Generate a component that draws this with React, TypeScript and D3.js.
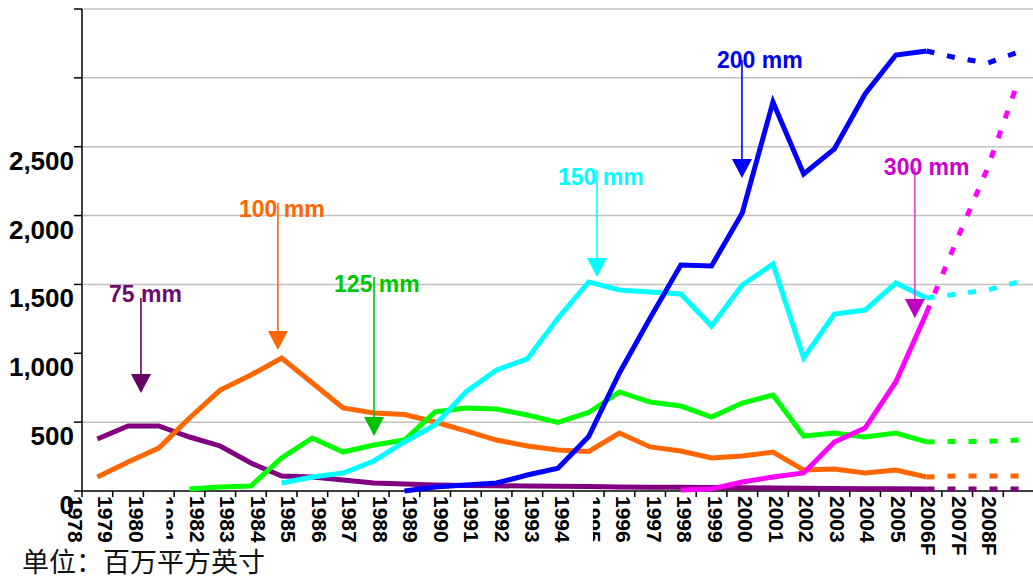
import React from 'react'
import * as d3 from 'd3'

// categories
const years = [
  '1978', '1979', '1980', '1981', '1982', '1983', '1984', '1985', '1986', '1987',
  '1988', '1989', '1990', '1991', '1992', '1993', '1994', '1995', '1996', '1997',
  '1998', '1999', '2000', '2001', '2002', '2003', '2004', '2005', '2006F', '2007F', '2008F',
]
const actualYears = years.slice(0, 28)
const forecastYears = years.slice(27) // 2005 joins the dashed part

// wafer area by diameter, million sq in (1978..2005)
const mm75 = [378, 472, 472, 392, 327, 203, 109, 102, 80, 58, 51, 44, 40, 38, 36, 34, 32, 29, 28, 27, 26, 24, 22, 20, 18, 17, 16, 15]
const mm100 = [102, 211, 312, 530, 733, 842, 966, 784, 603, 566, 555, 501, 436, 370, 327, 298, 287, 421, 320, 290, 240, 254, 283, 152, 160, 131, 152, 102]
const mm125 = [null, null, null, 15, 29, 36, 240, 385, 283, 334, 370, 574, 603, 595, 552, 498, 570, 719, 646, 617, 537, 639, 697, 399, 421, 392, 421, 356]
const mm150 = [null, null, null, null, null, null, 58, 102, 131, 218, 356, 479, 719, 879, 959, 1256, 1518, 1460, 1445, 1431, 1198, 1496, 1648, 966, 1285, 1314, 1510, 1401]
const mm200 = [null, null, null, null, null, null, null, null, null, null, 0, 29, 44, 58, 116, 165, 395, 857, 1256, 1641, 1634, 2019, 2825, 2302, 2484, 2883, 3166, 3195]
const mm300 = [null, null, null, null, null, null, null, null, null, null, null, null, null, null, null, null, null, null, null, 7, 15, 65, 102, 131, 356, 457, 792, 1293]

// forecasts 2006F..2008F
const mm75F = [14, 14, 14]
const mm100F = [109, 109, 109]
const mm125F = [360, 360, 370]
const mm150F = [1430, 1460, 1518]
const mm200F = [3144, 3108, 3188]
const mm300F = [1830, 2350, 2985]

const yLabelValues = [0, 500, 1000, 1500, 2000, 2500]
const gridValues = [500, 1500, 2000, 2500, 3000, 3500]
const unitText = '单位：百万平方英寸'

const series = [
  { name: '75 mm', color: '#800080', actual: mm75, forecast: mm75F },
  { name: '100 mm', color: '#FF6600', actual: mm100, forecast: mm100F },
  { name: '125 mm', color: '#00FF00', actual: mm125, forecast: mm125F },
  { name: '150 mm', color: '#00FFFF', actual: mm150, forecast: mm150F },
  { name: '200 mm', color: '#0000FF', actual: mm200, forecast: mm200F },
  { name: '300 mm', color: '#FF00FF', actual: mm300, forecast: mm300F },
]

// callouts: at = fractional category index, values in data units
const notes = [
  { text: '75 mm', at: 1.42, base: 1372, top: 1401, tip: 711, dx: -32, text_c: '#6E0A6E', line_c: '#660066', head_c: '#660066' },
  { text: '100 mm', at: 5.88, base: 1990, top: 2091, tip: 1024, dx: -39, text_c: '#FF6600', line_c: '#FF6600', head_c: '#FF6600' },
  { text: '125 mm', at: 9.01, base: 1445, top: 1554, tip: 399, dx: -40, text_c: '#00C800', line_c: '#00C000', head_c: '#00C000' },
  { text: '150 mm', at: 16.27, base: 2222, top: 2331, tip: 1554, dx: -39, text_c: '#00FFFF', line_c: '#00FFFF', head_c: '#00FFFF' },
  { text: '200 mm', at: 20.99, base: 3072, top: 3130, tip: 2273, dx: -25, text_c: '#0000EE', line_c: '#0000FF', head_c: '#0000FF' },
  { text: '300 mm', at: 26.62, base: 2295, top: 2346, tip: 1256, dx: -31, text_c: '#CC00CC', line_c: '#E040E0', head_c: '#C000C0' },
]

const W = 1033
const H = 581
const font = '"Liberation Sans", Arial, sans-serif'

export default function App() {
  const x = d3.scaleBand<string>().domain(years).range([82, 1034]).paddingInner(0).paddingOuter(0)
  const bw = x.bandwidth()
  const cx = (yr: string) => (x(yr) as number) + bw / 2
  const atX = (i: number) => cx(years[0]) + i * bw
  const y = d3.scaleLinear().domain([0, 3500]).range([491, 9])
  const labelX = d3.scaleLinear().domain([0, years.length - 1]).range([68, 982])
  const fmt = d3.format(',')

  const line = d3
    .line<[string, number | null]>()
    .defined(d => d[1] != null)
    .x(d => cx(d[0]))
    .y(d => y(d[1] as number))

  const clipped = ['1981', '1995']

  return (
    <svg width={W} height={H} style={{ position: 'absolute', left: 0, top: 0, background: '#fff' }}>
      <defs>
        <clipPath id="partial" clipPathUnits="userSpaceOnUse">
          <rect x={0} y={-40} width={80} height={33} />
        </clipPath>
      </defs>

      {/* gridlines */}
      {gridValues.map(v => (
        <line key={'g' + v} x1={82} x2={W} y1={y(v)} y2={y(v)} stroke="#C0C0C0" strokeWidth={1.5} />
      ))}

      {/* y axis */}
      <line x1={82} x2={82} y1={y(3500)} y2={y(0)} stroke="#000" strokeWidth={1.5} />
      {y.ticks(7).map(v => (
        <line key={'yt' + v} x1={74} x2={82} y1={y(v)} y2={y(v)} stroke="#000" strokeWidth={1.5} />
      ))}
      {yLabelValues.map(v => (
        <text key={'yl' + v} x={74} y={y(v) + 23} textAnchor="end" fontFamily={font} fontWeight="bold" fontSize={26} fill="#000">
          {fmt(v)}
        </text>
      ))}

      {/* x axis */}
      <line x1={82} x2={W} y1={y(0)} y2={y(0)} stroke="#000" strokeWidth={1.5} />
      {years.map(yr => (
        <line key={'xt' + yr} x1={x(yr)} x2={x(yr)} y1={y(0)} y2={y(0) + 6} stroke="#000" strokeWidth={1.5} />
      ))}
      {years.map((yr, i) => (
        <text
          key={'xl' + yr}
          transform={`translate(${labelX(i)},496) rotate(90)`}
          fontFamily={font}
          fontWeight="bold"
          fontSize={21}
          fill="#000"
          clipPath={clipped.includes(yr) ? 'url(#partial)' : undefined}
        >
          {yr}
        </text>
      ))}

      {/* series */}
      {series.map(s => {
        const pts = actualYears.map((yr, i) => [yr, s.actual[i]] as [string, number | null])
        const fpts = forecastYears.map((yr, i) => [yr, i === 0 ? s.actual[27] : s.forecast[i - 1]] as [string, number | null])
        return (
          <g key={s.name}>
            <path d={line(pts) || ''} fill="none" stroke={s.color} strokeWidth={5} strokeLinejoin="miter" />
            <path d={line(fpts) || ''} fill="none" stroke={s.color} strokeWidth={5} strokeDasharray="8 13" />
          </g>
        )
      })}

      {/* callouts */}
      {notes.map(n => {
        const lx = atX(n.at)
        const tipY = y(n.tip)
        return (
          <g key={n.text}>
            <line x1={lx} x2={lx} y1={y(n.top)} y2={tipY - 18} stroke={n.line_c} strokeWidth={1.6} />
            <path d={`M${lx - 10},${tipY - 19}L${lx + 10},${tipY - 19}L${lx},${tipY}Z`} fill={n.head_c} />
            <text x={lx + n.dx} y={y(n.base)} fontFamily={font} fontWeight="bold" fontSize={23} fill={n.text_c}>
              {n.text}
            </text>
          </g>
        )
      })}

      <text x={22} y={572} fontFamily='"Noto Sans CJK SC", sans-serif' fontSize={27} fill="#111">
        {unitText}
      </text>
    </svg>
  )
}
